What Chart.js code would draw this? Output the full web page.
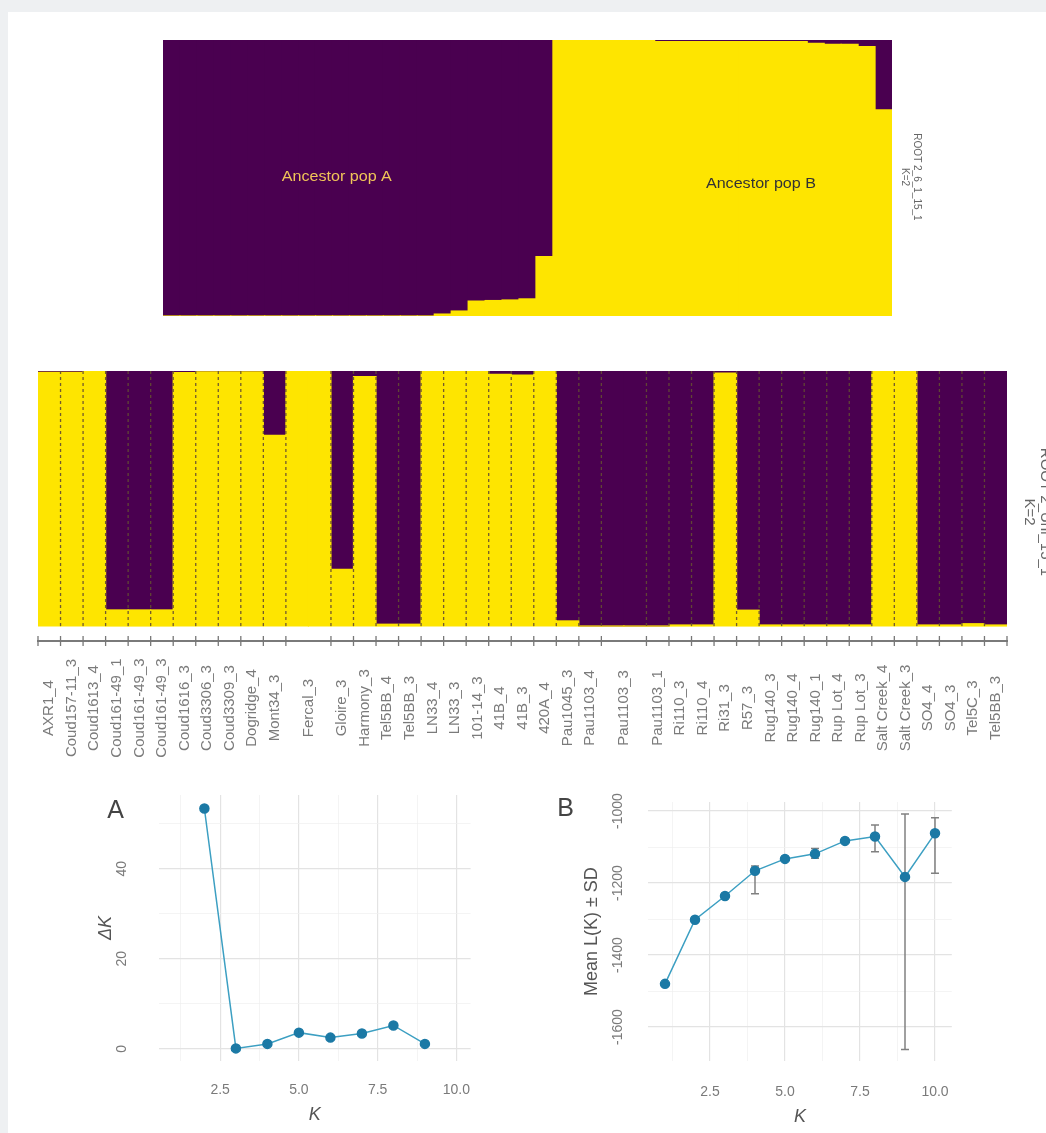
<!DOCTYPE html>
<html>
<head>
<meta charset="utf-8">
<script src="https://cdn.jsdelivr.net/npm/chart.js@4.4.0/dist/chart.umd.min.js"></script>
<style>
    body { margin: 0; background: #eef0f2; }
    #wrap { position: relative; width: 1046px; height: 1133px; overflow: hidden; }
    #panel { position: absolute; left: 8px; top: 12px; right: 0; bottom: 0; background: #fff; }
    canvas { position: absolute; }
</style>
</head>
<body>
<div id="wrap">
    <div id="panel"></div>
    <canvas id="sorted" width="780" height="276" style="left:163px;top:40px"></canvas>
    <canvas id="samples" width="1038" height="420" style="left:8px;top:360px"></canvas>
    <canvas id="deltaK" width="430" height="353" style="left:60px;top:780px"></canvas>
    <canvas id="meanLK" width="440" height="353" style="left:540px;top:780px"></canvas>
</div>
<script>
const PURPLE = '#4a0050';
const YELLOW = '#fee500';
const FONT = "'Liberation Sans', Arial, sans-serif";

// top panel: individuals sorted by cluster membership (K=2)
const sortedPurple = [1, 1, 1, 1, 1, 1, 1, 1, 1, 1, 1, 1, 1, 1, 1, 1,
    0.993, 0.982, 0.946, 0.944, 0.942, 0.938, 0.785,
    0.001, 0.001, 0.001, 0.001, 0.001, 0.001,
    0.006, 0.006, 0.006, 0.006, 0.006, 0.006, 0.006, 0.006, 0.006,
    0.012, 0.016, 0.016, 0.024, 0.253];
const sortedYellow = [0, 0, 0, 0, 0, 0, 0, 0, 0, 0, 0, 0, 0, 0, 0, 0,
    0.007, 0.018, 0.054, 0.056, 0.058, 0.062, 0.215,
    0.999, 0.999, 0.999, 0.999, 0.999, 0.999,
    0.994, 0.994, 0.994, 0.994, 0.994, 0.994, 0.994, 0.994, 0.994,
    0.988, 0.984, 0.984, 0.976, 0.747];
const sortedNotes = ['Ancestor pop A', 'Ancestor pop B'];
const sortedNoteX = [9.75, 34.77];
const sortedNoteY = [0.504, 0.478];
const sortedNoteColor = ['#f0c458', '#333333'];

// middle panel: individuals grouped by sample
const groupNames = ['AXR1_4', 'Coud157-11_3', 'Coud1613_4', 'Coud161-49_1', 'Coud161-49_3', 'Coud161-49_3',
    'Coud1616_3', 'Coud3306_3', 'Coud3309_3', 'Dogridge_4', 'Mont34_3', 'Fercal_3', 'Gloire_3', 'Harmony_3',
    'Tel5BB_4', 'Tel5BB_3', 'LN33_4', 'LN33_3', '101-14_3', '41B_4', '41B_3', '420A_4', 'Pau1045_3',
    'Pau1103_4', 'Pau1103_3', 'Pau1103_1', 'Ri110_3', 'Ri110_4', 'Ri31_3', 'R57_3', 'Rug140_3', 'Rug140_4',
    'Rug140_1', 'Rup Lot_4', 'Rup Lot_3', 'Salt Creek_4', 'Salt Creek_3', 'SO4_4', 'SO4_3', 'Tel5C_3', 'Tel5BB_3'];
const groupSizes = [1, 1, 1, 1, 1, 1, 1, 1, 1, 1, 1, 2, 1, 1, 1, 1, 1, 1, 1, 1, 1, 1, 1,
    1, 2, 1, 1, 1, 1, 1, 1, 1, 1, 1, 1, 1, 1, 1, 1, 1, 1];
const samplePurple = [0.005, 0.005, 0, 0.937, 0.937, 0.937, 0.006, 0.003, 0.003, 0.003, 0.252,
    0.002, 0.002, 0.778, 0.022, 0.993, 0.993, 0.002, 0.002, 0.002, 0.013, 0.016, 0.002,
    0.98, 1, 1, 1, 1, 0.996, 0.996, 0.008, 0.938, 0.996, 0.996, 0.996, 0.996, 0.996,
    0.002, 0.002, 0.996, 0.996, 0.991, 0.996];
const sampleYellow = [0.995, 0.995, 1, 0.063, 0.063, 0.063, 0.994, 0.997, 0.997, 0.997, 0.748,
    0.998, 0.998, 0.222, 0.978, 0.007, 0.007, 0.998, 0.998, 0.998, 0.987, 0.984, 0.998,
    0.02, 0, 0, 0, 0, 0.004, 0.004, 0.992, 0.062, 0.004, 0.004, 0.004, 0.004, 0.004,
    0.998, 0.998, 0.004, 0.004, 0.009, 0.004];

// Evanno method
const kDelta = [2, 3, 4, 5, 6, 7, 8, 9];
const deltaKValues = [53.4, 0.1, 1.1, 3.6, 2.5, 3.4, 5.2, 1.1];
const kMean = [1, 2, 3, 4, 5, 6, 7, 8, 9, 10];
const meanLK = [-1480, -1302, -1236, -1166, -1133, -1119, -1083, -1071, -1183, -1062];
const sdLow = [null, null, null, -1230, null, -1131, null, -1113, -1662, -1173];
const sdHigh = [null, null, null, -1153, null, -1104, null, -1039, -1008, -1019];

const kMajor = [2.5, 5, 7.5, 10];
const kMinor = [1.25, 3.75, 6.25, 8.75];
const dkMajor = [0, 20, 40];
const dkMinor = [10, 30, 50];
const lkMajor = [-1600, -1400, -1200, -1000];
const lkMinor = [-1500, -1300, -1100];

const DOT = '#1b79a5';
const LINE = '#3c9fc2';
const TICK_COLOR = '#7a7a7a';
const TITLE_COLOR = '#555555';

Chart.defaults.font.family = FONT;
Chart.defaults.animation = false;
Chart.defaults.responsive = false;
Chart.defaults.plugins.legend.display = false;
Chart.defaults.plugins.tooltip.enabled = false;

const drawRotated = (ctx, text, x, y, angle, font, color) => {
    ctx.save();
    ctx.translate(x, y);
    ctx.rotate(angle);
    ctx.font = font;
    ctx.fillStyle = color;
    ctx.textAlign = 'center';
    ctx.textBaseline = 'middle';
    ctx.fillText(text, 0, 0);
    ctx.restore();
};

// ---------- top: sorted ----------
new Chart(document.getElementById('sorted'), {
    type: 'bar',
    data: {
        labels: sortedPurple.map((_, i) => String(i + 1)),
        datasets: [
            { data: sortedYellow, backgroundColor: YELLOW },
            { data: sortedPurple, backgroundColor: PURPLE }
        ]
    },
    options: {
        layout: { padding: { left: 0, right: 51, top: 0, bottom: 0 } },
        datasets: { bar: { barPercentage: 1, categoryPercentage: 1, borderWidth: 0, inflateAmount: 0.6 } },
        scales: {
            x: { display: false, stacked: true },
            y: { display: false, stacked: true, min: 0, max: 1 }
        }
    },
    plugins: [{
        id: 'sortedText',
        afterDraw(chart) {
            const { ctx, scales: { x, y } } = chart;
            sortedNotes.forEach((t, i) => {
                ctx.save();
                ctx.translate(x.getPixelForValue(sortedNoteX[i]), y.getPixelForValue(sortedNoteY[i]));
                ctx.scale(1.15, 1);
                ctx.font = '14px ' + FONT;
                ctx.fillStyle = sortedNoteColor[i];
                ctx.textAlign = 'center';
                ctx.textBaseline = 'middle';
                ctx.fillText(t, 0, 0);
                ctx.restore();
            });
            drawRotated(ctx, 'ROOT 2_6_1_15_1', 754, 137, Math.PI / 2, '10px ' + FONT, '#666');
            drawRotated(ctx, 'K=2', 742, 137, Math.PI / 2, '10px ' + FONT, '#666');
        }
    }]
});

// ---------- middle: by sample ----------
const bounds = [0];
groupSizes.forEach(s => bounds.push(bounds[bounds.length - 1] + s));
const centers = groupSizes.map((s, i) => bounds[i] + s / 2);
const dashPts = [];
bounds.slice(1, -1).forEach(b => dashPts.push({ x: b, y: 0 }, { x: b, y: 1 }, { x: b, y: null }));
const Y_LOW = -0.0588;

new Chart(document.getElementById('samples'), {
    type: 'bar',
    data: {
        datasets: [
            { type: 'line', data: dashPts, yAxisID: 'yl', borderColor: 'rgba(100,75,50,0.9)', borderWidth: 1.3,
              borderDash: [3, 3], pointRadius: 0, spanGaps: false, order: 0 },
            { type: 'line', data: bounds.map(b => ({ x: b, y: Y_LOW })), yAxisID: 'yl', showLine: false,
              pointStyle: 'line', rotation: 90, pointRadius: 5, pointBorderColor: '#777', pointBorderWidth: 1.3,
              clip: false, order: 0 },
            { data: sampleYellow.map((v, i) => ({ x: i + 0.5, y: v })), backgroundColor: YELLOW, order: 1 },
            { data: samplePurple.map((v, i) => ({ x: i + 0.5, y: v })), backgroundColor: PURPLE, order: 1 }
        ]
    },
    options: {
        layout: { padding: { left: 30, right: 39, top: 11, bottom: 139 } },
        datasets: { bar: { barPercentage: 1, categoryPercentage: 1, borderWidth: 0, inflateAmount: 0.6 } },
        scales: {
            x: { type: 'linear', min: 0, max: 43, stacked: true, offset: false,
                 grid: { display: false, drawTicks: false, offset: false }, ticks: { display: false },
                 border: { display: true, color: '#7a7a7a', width: 2 } },
            y: { display: false, stacked: true, min: Y_LOW, max: 1 },
            yl: { display: false, min: Y_LOW, max: 1 }
        }
    },
    plugins: [{
        id: 'groupLabels',
        afterDraw(chart) {
            const { ctx, chartArea, scales: { x } } = chart;
            groupNames.forEach((name, i) => {
                drawRotated(ctx, name, x.getPixelForValue(centers[i]), chartArea.bottom + 67,
                    -Math.PI / 2, '15px ' + FONT, '#7b7b7b');
            });
            drawRotated(ctx, 'ROOT 2_Uni_15_1', 1037, 152, Math.PI / 2, '15px ' + FONT, '#666');
            drawRotated(ctx, 'K=2', 1021, 152, Math.PI / 2, '15px ' + FONT, '#666');
        }
    }]
});

// ---------- bottom: Evanno plots ----------
const fixBox = size => s => {
    s.paddingTop = s.paddingBottom = s.paddingLeft = s.paddingRight = 0;
    if (s.isHorizontal()) s.height = size; else s.width = size;
};
const setTicks = (majors, minors) => s => {
    s.ticks = [...minors, ...majors].sort((a, b) => a - b).map(v => ({ value: v }));
};
const gridFor = majors => ({
    drawTicks: false,
    color: c => (c.tick && majors.includes(c.tick.value)) ? '#e3e3e3' : '#efefef',
    lineWidth: c => (c.tick && majors.includes(c.tick.value)) ? 1.2 : 0.7
});
const tickFont = { size: 14 };

const kAxis = (min, max, pad, titlePad, height) => ({
    type: 'linear', min, max,
    afterBuildTicks: setTicks(kMajor, kMinor),
    afterFit: fixBox(height),
    grid: gridFor(kMajor),
    border: { display: false },
    ticks: { autoSkip: false, maxRotation: 0, padding: pad, color: TICK_COLOR, font: tickFont,
             callback: v => kMajor.includes(v) ? v.toFixed(1) : '' },
    title: { display: true, text: 'K', color: TITLE_COLOR, font: { size: 18, style: 'italic' },
             padding: { top: 0, bottom: titlePad } }
});

const letterPlugin = (letter, x, y) => ({
    id: 'letter' + letter,
    afterDraw(chart) {
        const ctx = chart.ctx;
        ctx.save();
        ctx.font = '25px ' + FONT;
        ctx.fillStyle = '#444';
        ctx.textAlign = 'center';
        ctx.textBaseline = 'middle';
        ctx.fillText(letter, x, y);
        ctx.restore();
    }
});

new Chart(document.getElementById('deltaK'), {
    type: 'line',
    data: {
        datasets: [{
            data: kDelta.map((k, i) => ({ x: k, y: deltaKValues[i] })),
            borderColor: LINE, borderWidth: 1.5,
            pointBackgroundColor: DOT, pointBorderColor: DOT, pointRadius: 4.5
        }]
    },
    options: {
        layout: { padding: { left: 0, right: 19.4, top: 15, bottom: 0 } },
        scales: {
            x: kAxis(0.55, 10.45, 20.6, 7.2, 72),
            y: {
                min: -2.7, max: 56.4,
                afterBuildTicks: setTicks(dkMajor, dkMinor),
                afterFit: fixBox(98.7),
                grid: gridFor(dkMajor),
                border: { display: false },
                ticks: { autoSkip: false, minRotation: 90, maxRotation: 90, crossAlign: 'center', padding: 28.9,
                         color: TICK_COLOR, font: tickFont, callback: v => dkMajor.includes(v) ? String(v) : '' },
                title: { display: true, text: 'ΔK', color: TITLE_COLOR, font: { size: 18, style: 'italic' },
                         padding: { top: 35.2, bottom: 0 } }
            }
        }
    },
    plugins: [letterPlugin('A', 55.6, 31)]
});

const errPts = [];
kMean.forEach((k, i) => {
    if (sdLow[i] === null) return;
    errPts.push({ x: k, y: sdLow[i] }, { x: k, y: sdHigh[i] }, { x: k, y: null });
});

new Chart(document.getElementById('meanLK'), {
    type: 'line',
    data: {
        datasets: [
            {
                data: kMean.map((k, i) => ({ x: k, y: meanLK[i] })),
                borderColor: LINE, borderWidth: 1.5,
                pointBackgroundColor: DOT, pointBorderColor: DOT, pointRadius: 4.5, order: 0
            },
            {
                data: errPts, borderColor: '#808080', borderWidth: 1.5, spanGaps: false,
                pointStyle: 'line', pointRadius: 4, pointBorderColor: '#808080', pointBorderWidth: 1.5, order: 1
            }
        ]
    },
    options: {
        layout: { padding: { left: 0, right: 28.2, top: 22, bottom: 0 } },
        scales: {
            x: kAxis(0.44, 10.56, 22, 5.5, 71.7),
            y: {
                min: -1695, max: -975,
                afterBuildTicks: setTicks(lkMajor, lkMinor),
                afterFit: fixBox(108.2),
                grid: gridFor(lkMajor),
                border: { display: false },
                ticks: { autoSkip: false, minRotation: 90, maxRotation: 90, crossAlign: 'center', padding: 12.3,
                         color: TICK_COLOR, font: tickFont, callback: v => lkMajor.includes(v) ? String(v) : '' },
                title: { display: true, text: 'Mean L(K) ± SD', color: TITLE_COLOR, font: { size: 18 },
                         padding: { top: 40.9, bottom: 0 } }
            }
        }
    },
    plugins: [letterPlugin('B', 25.5, 29.5)]
});
</script>
</body>
</html>
